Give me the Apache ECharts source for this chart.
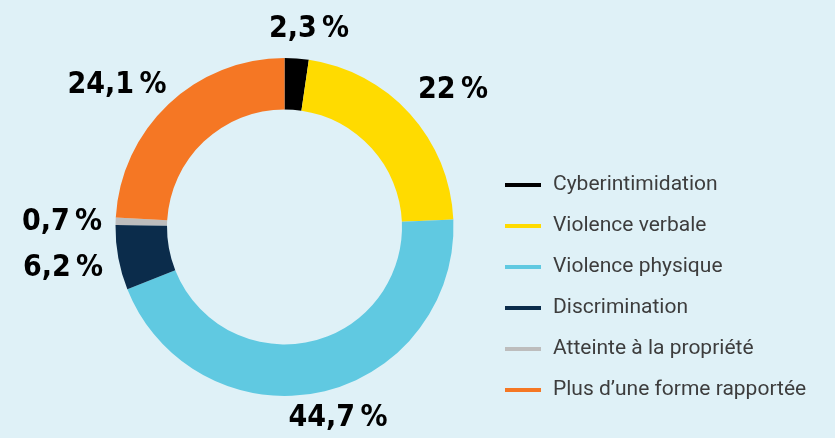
<!DOCTYPE html>
<html>
<head>
<meta charset="UTF-8">
<title>Formes de violence</title>
<script src="https://cdn.jsdelivr.net/npm/echarts@6/dist/echarts.min.js"></script>
<style>
  html, body { margin: 0; padding: 0; background: #dff1f7; }
  #chart { width: 835px; height: 438px; }
</style>
</head>
<body>
<div id="chart"></div>
<script>
// categories et valeurs (%)
var categories = ['Cyberintimidation', 'Violence verbale', 'Violence physique',
                  'Discrimination', 'Atteinte à la propriété', 'Plus d\u2019une forme rapportée'];
var values = [2.3, 22, 44.7, 6.2, 0.7, 24.1];
var colors = ['#000000', '#ffdb00', '#60c9e1', '#0b2c4b', '#bdbdbd', '#f57724'];

// position des étiquettes (centre du texte)
var labelPos = [[309, 29], [453, 90], [338, 418], [63, 268], [62, 222], [117, 85]];

var chart = echarts.init(document.getElementById('chart'));

var option = {
  backgroundColor: '#dff1f7',
  animation: false,
  color: colors,
  legend: {
    orient: 'vertical',
    left: 505,
    top: 174,
    padding: 0,
    icon: 'rect',
    itemWidth: 36,
    itemHeight: 4,
    itemGap: 19,
    textStyle: {
      fontFamily: 'Roboto',
      fontSize: 21,
      lineHeight: 22,
      color: '#3d3d3d',
      padding: [0, 0, 0, 7]
    },
    data: categories
  },
  series: [{
    type: 'pie',
    center: [284.5, 227],
    radius: [117.5, 169],
    startAngle: 90,
    clockwise: true,
    avoidLabelOverlap: false,
    label: {
      show: true,
      position: 'outside',
      fontFamily: '"DejaVu Sans Condensed", sans-serif',
      fontWeight: 'bold',
      fontSize: 30,
      color: '#000',
      formatter: function (p) {
        return String(p.value).replace('.', ',') + '\u2009%';
      }
    },
    labelLine: { show: false },
    labelLayout: function (params) {
      var p = labelPos[params.dataIndex];
      return { x: p[0], y: p[1], align: 'center', verticalAlign: 'middle' };
    },
    emphasis: { disabled: true },
    data: categories.map(function (c, i) {
      return { name: c, value: values[i] };
    })
  }]
};

chart.setOption(option);
</script>
</body>
</html>
